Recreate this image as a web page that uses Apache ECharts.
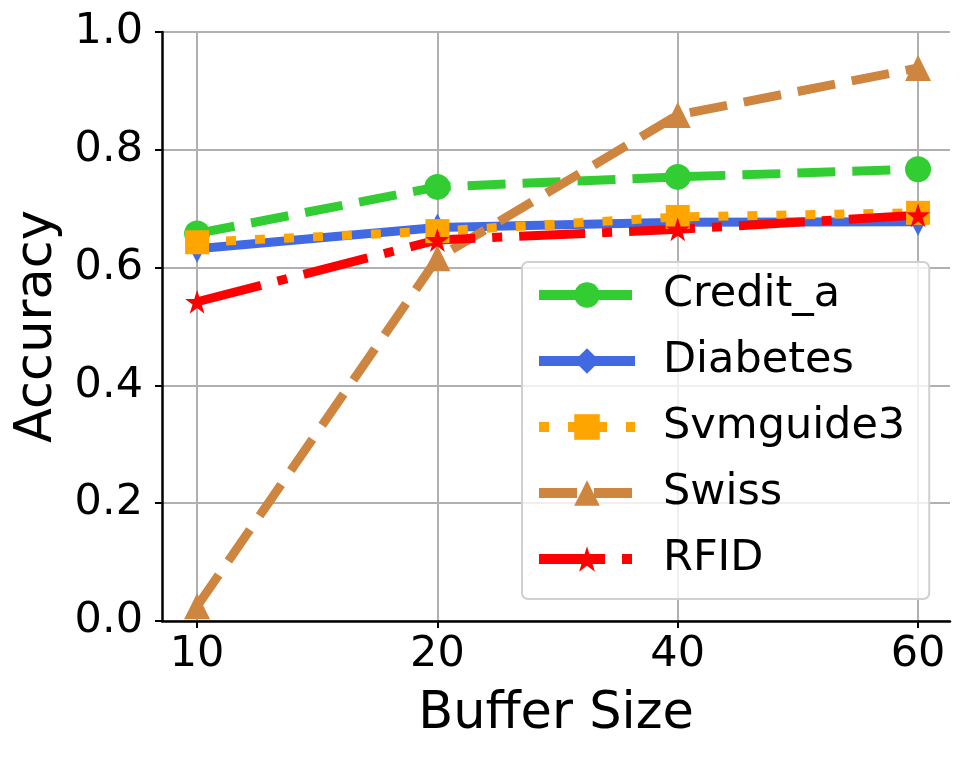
<!DOCTYPE html>
<html>
<head>
<meta charset="utf-8">
<script src="https://cdn.jsdelivr.net/npm/echarts@6/dist/echarts.min.js"></script>
<style>
html,body{margin:0;padding:0;background:#fff;}
#chart{width:968px;height:757px;}
</style>
</head>
<body>
<div id="chart"></div>
<script>
const categories = ['10', '20', '40', '60'];
const creditA = [0.658, 0.737, 0.754, 0.767];
const diabetes = [0.632, 0.668, 0.677, 0.678];
const svmguide3 = [0.643, 0.662, 0.686, 0.693];
const swiss = [0.025, 0.616, 0.859, 0.939];
const rfid = [0.542, 0.647, 0.665, 0.689];
const yTicks = [0, 0.2, 0.4, 0.6, 0.8, 1.0];

const FONT = 'DejaVu Sans';
const starPath = 'path://M0,-1 L0.2245,-0.309 L0.951,-0.309 L0.363,0.118 L0.588,0.809 L0,0.382 L-0.588,0.809 L-0.363,0.118 L-0.951,-0.309 L-0.2245,-0.309 Z';

function pts(arr){ return arr.map((v,i)=>[i, v]); }

function mk(name, data, color, lineType, symbol, symbolSize){
  return {
    name: name, type: 'line', data: pts(data),
    symbol: symbol, symbolSize: symbolSize,
    lineStyle: {color: color, width: 9, type: lineType, cap: 'butt'},
    itemStyle: {color: color, borderWidth: 0},
    emphasis: {disabled: true},
    animation: false
  };
}

const chart = echarts.init(document.getElementById('chart'), null, {renderer: 'canvas'});
chart.setOption({
  animation: false,
  backgroundColor: '#fff',
  grid: {left: 162, right: 18, top: 32, bottom: 136, containLabel: false},
  xAxis: {
    type: 'value', min: -0.146, max: 3.133,
    name: 'Buffer Size', nameLocation: 'middle', nameGap: 68,
    nameTextStyle: {fontFamily: FONT, fontSize: 51, color: '#000'},
    axisLine: {show: true, onZero: false, lineStyle: {color: '#000', width: 2.5}},
    axisTick: {show: true, length: 7, lineStyle: {color: '#000', width: 2}, customValues: [0,1,2,3]},
    axisLabel: {fontFamily: FONT, fontSize: 43, color: '#000', margin: 12, customValues: [0,1,2,3],
      formatter: v => categories[Math.round(v)]},
    splitLine: {show: true, lineStyle: {color: '#b0b0b0', width: 2}}
  },
  yAxis: {
    type: 'value', min: 0, max: 1, interval: 0.2,
    name: 'Accuracy', nameLocation: 'middle', nameGap: 94, nameRotate: 90,
    nameTextStyle: {fontFamily: FONT, fontSize: 51, color: '#000'},
    axisLine: {show: true, onZero: false, lineStyle: {color: '#000', width: 2.5}},
    axisTick: {show: true, length: 7, lineStyle: {color: '#000', width: 2}},
    axisLabel: {fontFamily: FONT, fontSize: 43, color: '#000', margin: 19,
      formatter: v => v.toFixed(1)},
    splitLine: {show: true, lineStyle: {color: '#b0b0b0', width: 2}}
  },
  legend: {
    orient: 'vertical', left: 522, top: 262,
    padding: [10, 24, 17, 12],
    itemWidth: 96, itemHeight: 32, itemGap: 20,
    backgroundColor: 'rgba(255,255,255,0.8)',
    borderColor: '#d0d0d0', borderWidth: 2, borderRadius: 6,
    lineStyle: {width: 10},
    textStyle: {fontFamily: FONT, fontSize: 43, color: '#000', lineHeight: 46, padding: [0,0,0,23]},
    data: ['Credit_a', 'Diabetes', 'Svmguide3', 'Swiss', 'RFID']
  },
  series: [
    mk('Credit_a', creditA, '#32CD32', [38, 17], 'circle', 26),
    mk('Diabetes', diabetes, '#4169E1', 'solid', 'diamond', [15, 28]),
    mk('Svmguide3', svmguide3, '#FFA500', [10, 19], 'rect', 24),
    mk('Swiss', swiss, '#CD853F', [38, 17], 'triangle', 26),
    mk('RFID', rfid, '#FF0000', [66, 17, 10, 17], starPath, 24)
  ]
});
</script>
</body>
</html>
